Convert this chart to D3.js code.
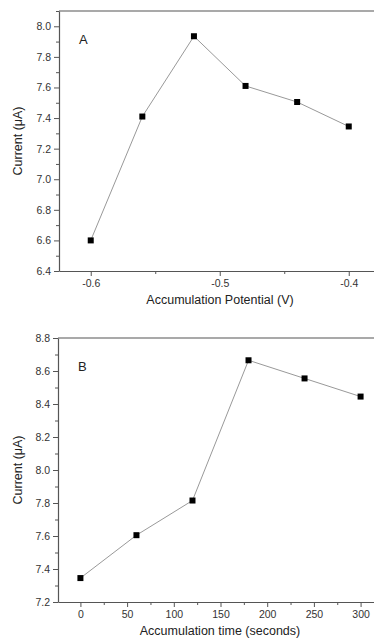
<!DOCTYPE html>
<html>
<head>
<meta charset="utf-8">
<script src="https://cdn.jsdelivr.net/npm/d3@7"></script>
<style>
  body { margin: 0; background: #fff; }
  svg { display: block; }
  text { font-family: "Liberation Sans", Arial, sans-serif; }
</style>
</head>
<body>
<svg id="chart"></svg>
<script>
// panel A
var potential = [-0.6, -0.56, -0.52, -0.48, -0.44, -0.4];
var currentA = [6.6, 7.41, 7.935, 7.61, 7.505, 7.345];
var xTicksA = [-0.6, -0.5, -0.4];
var yTicksA = [6.4, 6.6, 6.8, 7.0, 7.2, 7.4, 7.6, 7.8, 8.0];

// panel B
var accTime = [0, 60, 120, 180, 240, 300];
var currentB = [7.345, 7.605, 7.815, 8.665, 8.555, 8.445];
var xTicksB = [0, 50, 100, 150, 200, 250, 300];
var yTicksB = [7.2, 7.4, 7.6, 7.8, 8.0, 8.2, 8.4, 8.6, 8.8];

var svg = d3.select("#chart")
            .attr("width", 374)
            .attr("height", 643);

// plain hyphen instead of d3's unicode minus
var fmt = function(spec)
{
  var f = d3.format(spec);
  return function(d) { return f(d).replace("\u2212", "-"); };
}

var drawPanel = function(opt)
{
  var g = svg.append("g");

  var xScale = d3.scaleLinear()
                 .domain(opt.xDomain)
                 .range([opt.left, opt.right]);

  var yScale = d3.scaleLinear()
                 .domain(opt.yDomain)
                 .range([opt.bottom, opt.top]);

  // frame (top line runs off the right edge)
  g.append("line")
   .attr("x1", opt.left).attr("x2", opt.right)
   .attr("y1", opt.top).attr("y2", opt.top)
   .attr("stroke", "#555").attr("stroke-width", 1.2);

  // minor ticks
  var xAxisMinor = d3.axisBottom(xScale)
                     .tickValues(opt.xMinor)
                     .tickSize(3)
                     .tickFormat("");
  var yAxisMinor = d3.axisLeft(yScale)
                     .tickValues(opt.yMinor)
                     .tickSize(3)
                     .tickFormat("");

  g.append("g")
   .attr("transform", "translate(0," + opt.bottom + ")")
   .call(xAxisMinor)
   .call(function(s) { s.select(".domain").remove(); });
  g.append("g")
   .attr("transform", "translate(" + opt.left + ",0)")
   .call(yAxisMinor)
   .call(function(s) { s.select(".domain").remove(); });

  var xAxis = d3.axisBottom(xScale)
                .tickValues(opt.xTicks)
                .tickSize(5)
                .tickSizeOuter(0)
                .tickPadding(4)
                .tickFormat(opt.xFormat);
  var yAxis = d3.axisLeft(yScale)
                .tickValues(opt.yTicks)
                .tickSize(5)
                .tickSizeOuter(0)
                .tickPadding(3)
                .tickFormat(fmt(".1f"));

  g.append("g")
   .attr("class", "axis")
   .attr("transform", "translate(0," + opt.bottom + ")")
   .call(xAxis);
  g.append("g")
   .attr("class", "axis")
   .attr("transform", "translate(" + opt.left + ",0)")
   .call(yAxis);

  g.selectAll("path.domain").attr("stroke", "#555").attr("stroke-width", 1.2);
  g.selectAll(".tick line").attr("stroke", "#555");
  g.selectAll(".tick text")
   .attr("fill", "#333")
   .style("font-size", "10.5px");

  var line = d3.line()
               .x(function(d) { return xScale(d[0]); })
               .y(function(d) { return yScale(d[1]); });

  var pts = opt.xs.map(function(x, i) { return [x, opt.ys[i]]; });

  g.append("path")
   .datum(pts)
   .attr("d", line)
   .attr("fill", "none")
   .attr("stroke", "#999")
   .attr("stroke-width", 1);

  g.selectAll("rect.pt")
   .data(pts)
   .enter()
   .append("rect")
   .attr("class", "pt")
   .attr("x", function(d) { return xScale(d[0]) - 3; })
   .attr("y", function(d) { return yScale(d[1]) - 3; })
   .attr("width", 6)
   .attr("height", 6)
   .attr("fill", "#000");

  g.append("text")
   .attr("x", opt.left + 20)
   .attr("y", opt.top + 33)
   .attr("fill", "#222")
   .style("font-size", "13px")
   .text(opt.letter);

  g.append("text")
   .attr("transform", "translate(22," + ((opt.top + opt.bottom) / 2) + ") rotate(-90)")
   .attr("text-anchor", "middle")
   .attr("fill", "#222")
   .style("font-size", "12.5px")
   .text("Current (\u03bcA)");

  g.append("text")
   .attr("x", 220)
   .attr("y", opt.bottom + 33)
   .attr("text-anchor", "middle")
   .attr("fill", "#222")
   .style("font-size", "12.5px")
   .text(opt.xLabel);
}

drawPanel({
  xs: potential, ys: currentA,
  xDomain: [-0.6246, -0.375], yDomain: [6.4, 8.1],
  left: 59, right: 381, top: 11, bottom: 271,
  xTicks: xTicksA, yTicks: yTicksA,
  xMinor: [-0.55, -0.45],
  yMinor: [6.5, 6.7, 6.9, 7.1, 7.3, 7.5, 7.7, 7.9, 8.1],
  xFormat: fmt(".1f"),
  letter: "A",
  xLabel: "Accumulation Potential (V)"
});

drawPanel({
  xs: accTime, ys: currentB,
  xDomain: [-24, 324], yDomain: [7.2, 8.8],
  left: 58, right: 383, top: 338, bottom: 602,
  xTicks: xTicksB, yTicks: yTicksB,
  xMinor: [25, 75, 125, 175, 225, 275],
  yMinor: [7.3, 7.5, 7.7, 7.9, 8.1, 8.3, 8.5, 8.7],
  xFormat: d3.format("d"),
  letter: "B",
  xLabel: "Accumulation time (seconds)"
});
</script>
</body>
</html>
